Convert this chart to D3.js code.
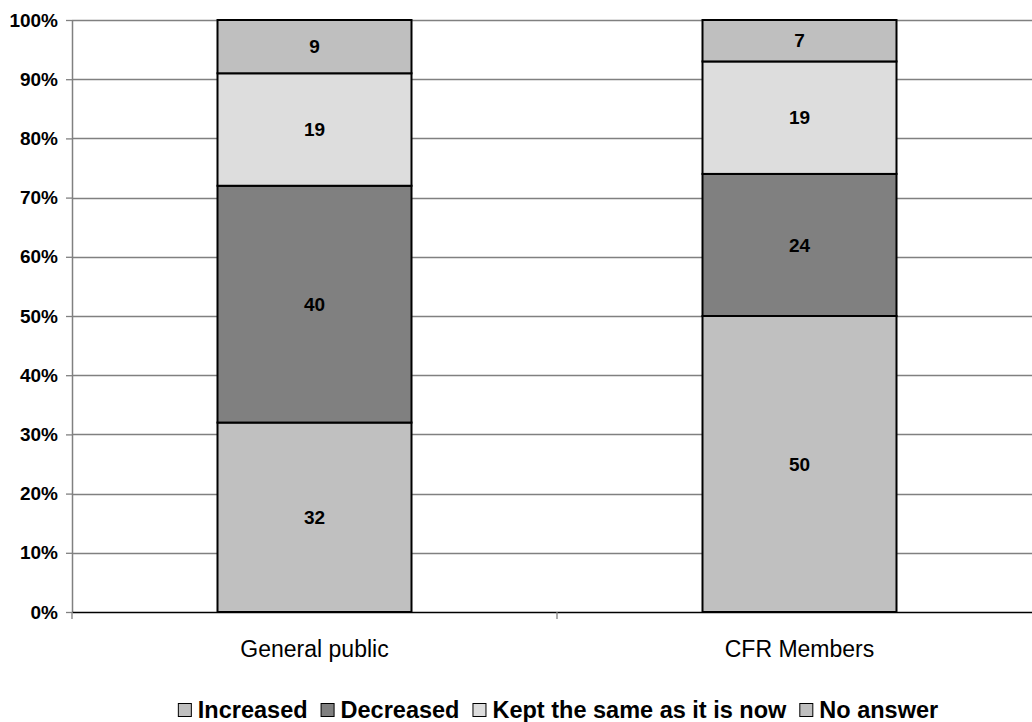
<!DOCTYPE html>
<html>
<head>
<meta charset="utf-8">
<script src="https://cdn.jsdelivr.net/npm/d3@7"></script>
<style>
  html, body { margin: 0; padding: 0; background: #fff; }
  svg { display: block; font-family: "Liberation Sans", Arial, sans-serif; }
</style>
</head>
<body>
<svg id="chart" width="1032" height="722"></svg>
<script>
// Survey responses, stacked bottom to top
const groups = ["General public", "CFR Members"];
const seriesNames = ["Increased", "Decreased", "Kept the same as it is now", "No answer"];
const increased = [32, 50];
const decreased = [40, 24];
const keptSame = [19, 19];
const noAnswer = [9, 7];
const seriesColors = ["#c0c0c0", "#808080", "#dddddd", "#bfbfbf"];
const yTicks = [0, 10, 20, 30, 40, 50, 60, 70, 80, 90, 100];

const svg = d3.select("#chart");
const margin = { left: 72, top: 20, bottom: 110 };
const plotW = 970, plotH = 722 - margin.top - margin.bottom;

const rows = groups.map((g, i) => ({
  group: g,
  [seriesNames[0]]: increased[i],
  [seriesNames[1]]: decreased[i],
  [seriesNames[2]]: keptSame[i],
  [seriesNames[3]]: noAnswer[i]
}));
const stacked = d3.stack().keys(seriesNames)(rows);

const x = d3.scaleBand().domain(groups).range([0, plotW]).paddingInner(0.6).paddingOuter(0.3);
const y = d3.scaleLinear().domain([0, 100]).range([plotH, 0]);
const color = d3.scaleOrdinal().domain(seriesNames).range(seriesColors);

const g = svg.append("g").attr("transform", `translate(${margin.left},${margin.top})`);

// horizontal gridlines
g.append("g").selectAll("line").data(yTicks.filter(t => t > 0)).join("line")
  .attr("x1", 0).attr("x2", plotW)
  .attr("y1", d => Math.round(y(d)) + 0.5).attr("y2", d => Math.round(y(d)) + 0.5)
  .attr("stroke", "#808080").attr("stroke-width", 1.3);

// y axis
const yAxis = g.append("g")
  .call(d3.axisLeft(y).tickValues(yTicks).tickFormat(d => d + "%").tickSize(6).tickSizeOuter(0));
yAxis.select(".domain").attr("stroke", "#808080").attr("stroke-width", 1.5);
yAxis.selectAll(".tick line").attr("stroke", "#808080").attr("stroke-width", 1.3);
yAxis.selectAll(".tick text")
  .attr("x", -14)
  .style("font-size", "19px").style("font-weight", "bold").attr("fill", "#000");

// x axis
const xAxis = g.append("g").attr("transform", `translate(0,${plotH})`)
  .call(d3.axisBottom(x).tickSize(0).tickSizeOuter(0));
xAxis.select(".domain").attr("stroke", "#000").attr("stroke-width", 1.3);
xAxis.selectAll(".tick text").attr("y", 45).attr("dy", 0)
  .style("font-size", "23px").attr("fill", "#000");
// category separator tick marks
g.append("g").selectAll("line").data([0, plotW / 2]).join("line")
  .attr("x1", d => d).attr("x2", d => d)
  .attr("y1", plotH).attr("y2", plotH + 7)
  .attr("stroke", "#808080").attr("stroke-width", 1.3);

// stacked bars
const layers = g.append("g").selectAll("g").data(stacked).join("g")
  .attr("fill", d => color(d.key));
layers.selectAll("rect").data(d => d).join("rect")
  .attr("x", d => x(d.data.group))
  .attr("y", d => y(d[1]))
  .attr("width", x.bandwidth())
  .attr("height", d => y(d[0]) - y(d[1]))
  .attr("stroke", "#000").attr("stroke-width", 2);

// segment value labels
layers.selectAll("text").data(d => d).join("text")
  .attr("x", d => x(d.data.group) + x.bandwidth() / 2)
  .attr("y", d => (y(d[0]) + y(d[1])) / 2)
  .attr("dy", "0.35em")
  .attr("text-anchor", "middle")
  .style("font-size", "19px").style("font-weight", "bold").attr("fill", "#000")
  .text(d => d[1] - d[0]);

// legend
const legend = svg.append("g").attr("transform", "translate(0,718)");
const items = [];
seriesNames.forEach((name, i) => {
  const it = legend.append("g");
  it.append("rect").attr("x", 0.5).attr("y", -14.5).attr("width", 13).attr("height", 13)
    .attr("fill", seriesColors[i]).attr("stroke", "#000").attr("stroke-width", 1);
  const t = it.append("text").attr("x", 20).attr("y", 0)
    .style("font-size", "23.5px").style("font-weight", "bold").attr("fill", "#000").text(name);
  const w = 20 + t.node().getComputedTextLength();
  items.push({ it, w });
});
const gap = 13;
const total = d3.sum(items, d => d.w) + gap * (items.length - 1);
let cx = 558 - total / 2;
items.forEach(d => { d.it.attr("transform", `translate(${cx},0)`); cx += d.w + gap; });
</script>
</body>
</html>
